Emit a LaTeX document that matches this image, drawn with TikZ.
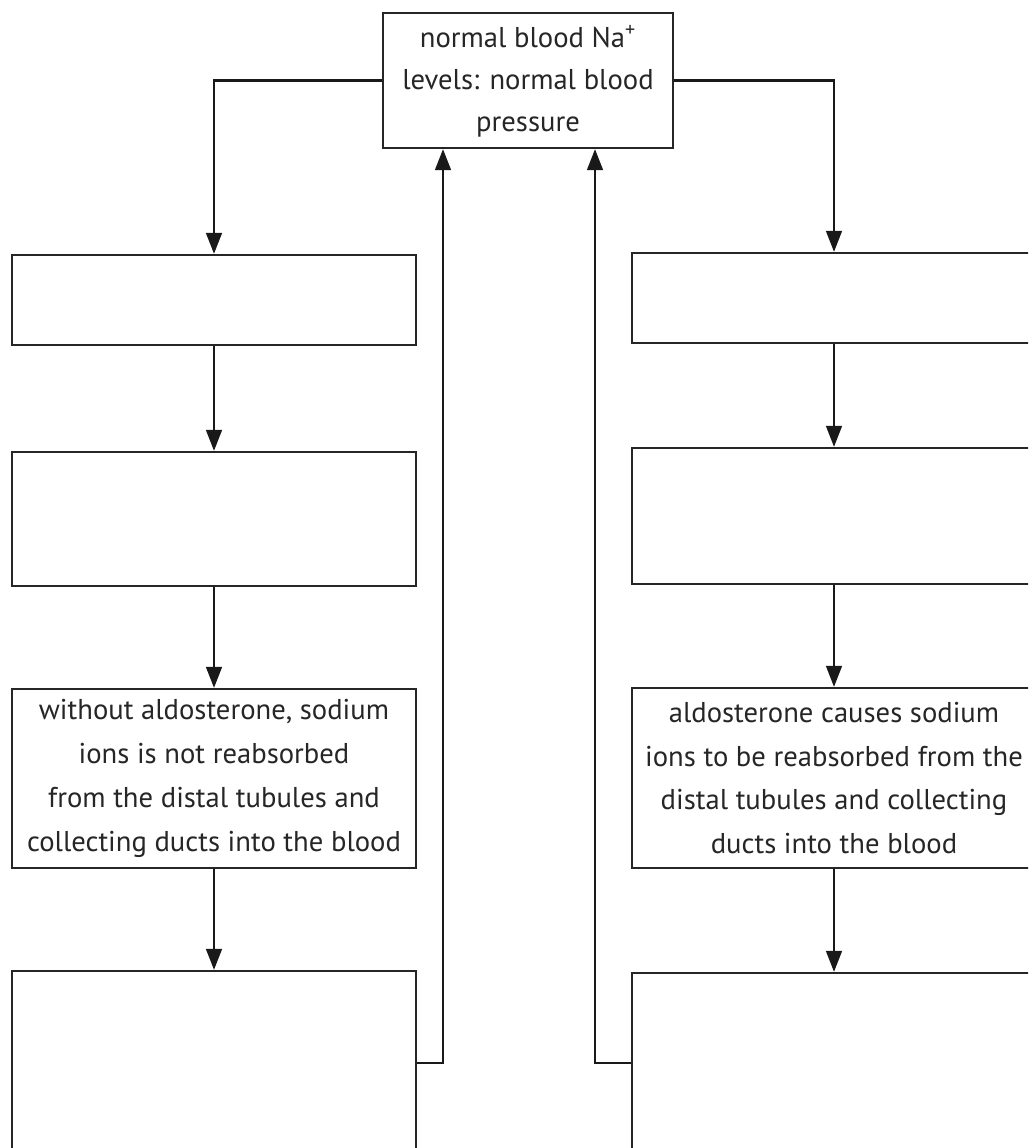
\documentclass[tikz,border=0pt]{standalone}
\usepackage{fontspec}
\setmainfont{PT Sans}
\usetikzlibrary{arrows.meta}
\begin{document}
\begin{tikzpicture}[x=0.02cm,y=-0.02cm,
  box/.style={draw=black!85, line width=1.3pt, rectangle, inner sep=0pt, align=center,
    minimum width=8.08cm, font=\fontsize{16.3}{25}\selectfont, text=black!85},
  arr/.style={draw=black!90, line width=1.3pt, -{Triangle[length=12pt,width=9pt]}},
  ln/.style={draw=black!90, line width=1.3pt}]
\useasboundingbox (0,0) rectangle (1028,1148);
\clip (0,0) rectangle (1028,1148);
\fill[white] (0,0) rectangle (1028,1148);
% top
\node[box, minimum width=5.8cm, minimum height=2.7cm] (top) at (528,80.5)
  {\raisebox{-4pt}{\begin{tabular}{@{}c@{}}normal blood Na\textsuperscript{+}\\[-1pt]levels: normal blood\\[-1pt]pressure\end{tabular}}};
% left column
\node[box, minimum height=1.8cm] (L1) at (214,300) {};
\node[box, minimum height=2.68cm] (L2) at (214,519) {};
\node[box, minimum height=3.58cm] (L3) at (214,778.5)
  {without aldosterone, sodium\\ions is not reabsorbed\\from the distal tubules and\\collecting ducts into the blood};
\node[box, minimum height=3.96cm] (L4) at (214,1070) {};
% right column
\node[box, minimum height=1.8cm] (R1) at (834,298) {};
\node[box, minimum height=2.72cm] (R2) at (834,516) {};
\node[box, minimum height=3.6cm] (R3) at (834,778)
  {aldosterone causes sodium\\ions to be reabsorbed from the\\distal tubules and collecting\\ducts into the blood};
\node[box, minimum height=3.92cm] (R4) at (834,1071) {};
% connectors
\draw[arr] (top.west) -| (L1.north);
\draw[arr] (top.east) -| (R1.north);
\draw[arr] (L1) -- (L2);
\draw[arr] (L2) -- (L3);
\draw[arr] (L3) -- (L4);
\draw[arr] (R1) -- (R2);
\draw[arr] (R2) -- (R3);
\draw[arr] (R3) -- (R4);
\coordinate (fbL) at (443,1063);
\coordinate (fbR) at (595,1063);
\draw[arr] (L4.east |- fbL) -- (fbL) -- (top.south -| fbL);
\draw[arr] (R4.west |- fbR) -- (fbR) -- (top.south -| fbR);
\end{tikzpicture}
\end{document}
